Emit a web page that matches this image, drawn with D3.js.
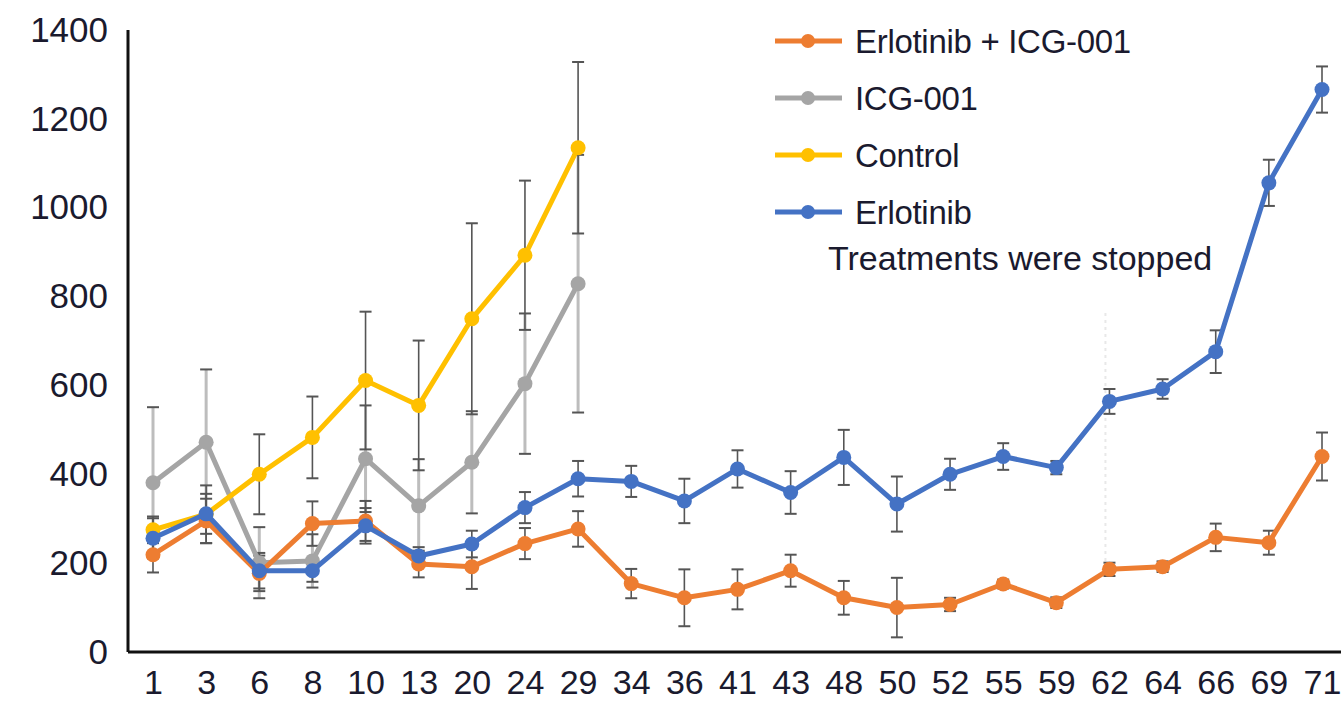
<!DOCTYPE html>
<html>
<head>
<meta charset="utf-8">
<script src="https://cdn.jsdelivr.net/npm/d3@7"></script>
<style>
  body { margin: 0; background: #fff; }
  svg text { font-family: "Liberation Sans", Arial, sans-serif; fill: #1a1a2e; }
</style>
</head>
<body>
<div id="chart"></div>
<script>
// Days after start of treatment
var days = ["1","3","6","8","10","13","20","24","29","34","36","41","43","48","50","52","55","59","62","64","66","69","71"];
var yTicks = [0, 200, 400, 600, 800, 1000, 1200, 1400];

// Tumour volume, means and error
var comboMean = [219, 295, 177, 289, 295, 198, 192, 244, 277, 154, 122, 141, 183, 122, 100, 107, 153, 111, 186, 192, 258, 246, 440];
var comboErr  = [40, 50, 40, 50, 45, 30, 50, 35, 40, 33, 64, 45, 36, 38, 67, 15, 10, 12, 15, 12, 31, 27, 54];
var icgMean = [381, 472, 201, 205, 435, 329, 427, 604, 829];
var icgErr  = [170, 164, 80, 60, 120, 105, 115, 158, 290];
var controlMean = [275, 310, 400, 483, 611, 555, 750, 893, 1135];
var controlErr  = [30, 65, 90, 92, 155, 146, 215, 168, 193];
var erloMean = [256, 311, 183, 183, 284, 216, 243, 325, 390, 384, 340, 412, 359, 438, 333, 400, 440, 415, 564, 592, 676, 1056, 1266];
var erloErr  = [45, 45, 40, 25, 40, 20, 30, 35, 40, 35, 50, 42, 48, 62, 62, 35, 30, 15, 28, 22, 48, 52, 52];

var legendNames = ["Erlotinib + ICG-001", "ICG-001", "Control", "Erlotinib"];
var stopDay = "62";
var stopRange = [205, 769];

var series = [
    {name: "ICG-001", mean: icgMean, err: icgErr, color: "#a5a5a5", errColor: "#bdbdbd", errWidth: 3},
    {name: "Control", mean: controlMean, err: controlErr, color: "#ffc000", errColor: "#555", errWidth: 1.6},
    {name: "Erlotinib + ICG-001", mean: comboMean, err: comboErr, color: "#ed7d31", errColor: "#555", errWidth: 1.6},
    {name: "Erlotinib", mean: erloMean, err: erloErr, color: "#4472c4", errColor: "#555", errWidth: 1.6}
];
var colorOf = {};
series.forEach(function(s){ colorOf[s.name] = s.color; });

var width = 1341, height = 703;
var margin = {top: 30, right: 19, bottom: 51, left: 128};

var svg = d3.select("#chart").append("svg")
    .attr("width", width)
    .attr("height", height);

// Scales
var x = d3.scalePoint().domain(days).range([margin.left + 25, width - margin.right]);
var y = d3.scaleLinear().domain([0, 1400]).range([height - margin.bottom, margin.top]);

// faint marker where treatments were stopped
svg.append("line")
    .attr("x1", x(stopDay) - 4).attr("x2", x(stopDay) - 4)
    .attr("y1", y(stopRange[0])).attr("y2", y(stopRange[1]))
    .attr("stroke", "#e8e8e8")
    .attr("stroke-width", 2)
    .attr("stroke-dasharray", "3,4");

// Error bars first, lines on top
series.forEach(function(s){
    var pts = s.mean.map(function(m, i){ return {day: days[i], m: m, e: s.err[i]}; });
    var g = svg.append("g");
    g.selectAll("line.v").data(pts).enter().append("line")
        .attr("x1", function(d){ return x(d.day); })
        .attr("x2", function(d){ return x(d.day); })
        .attr("y1", function(d){ return y(d.m - d.e); })
        .attr("y2", function(d){ return y(d.m + d.e); })
        .attr("stroke", s.errColor).attr("stroke-width", s.errWidth);
    [1, -1].forEach(function(sign){
        g.selectAll("line.c" + sign).data(pts).enter().append("line")
            .attr("x1", function(d){ return x(d.day) - 6; })
            .attr("x2", function(d){ return x(d.day) + 6; })
            .attr("y1", function(d){ return y(d.m + sign * d.e); })
            .attr("y2", function(d){ return y(d.m + sign * d.e); })
            .attr("stroke", "#555").attr("stroke-width", 2);
    });
});

var line = d3.line()
    .x(function(d){ return x(d.day); })
    .y(function(d){ return y(d.m); });

series.forEach(function(s){
    var pts = s.mean.map(function(m, i){ return {day: days[i], m: m}; });
    svg.append("path")
        .datum(pts)
        .attr("d", line)
        .attr("fill", "none")
        .attr("stroke", s.color)
        .attr("stroke-width", 5)
        .attr("stroke-linejoin", "round");
    svg.selectAll(null).data(pts).enter().append("circle")
        .attr("cx", function(d){ return x(d.day); })
        .attr("cy", function(d){ return y(d.m); })
        .attr("r", 7.5)
        .attr("fill", s.color);
});

// Axes
var xAxis = svg.append("g")
    .attr("transform", "translate(0," + y(0) + ")")
    .call(d3.axisBottom(x).tickSize(0).tickPadding(18));
xAxis.select(".domain").attr("d", "M" + margin.left + ",0H" + width).attr("stroke", "#111").attr("stroke-width", 3);
xAxis.selectAll("text").style("font-size", "34px").attr("dy", "0.71em");

var yAxis = svg.append("g")
    .attr("transform", "translate(" + margin.left + ",0)")
    .call(d3.axisLeft(y).tickValues(yTicks).tickFormat(d3.format("d")).tickSize(0).tickPadding(20));
yAxis.select(".domain").attr("d", "M0," + y(0) + "V" + y(1400)).attr("stroke", "#111").attr("stroke-width", 3);
yAxis.selectAll("text").style("font-size", "35px");

// Legend
var legend = svg.append("g");
legendNames.forEach(function(name, i){
    var ly = 41 + i * 57;
    legend.append("line")
        .attr("x1", 775).attr("x2", 842)
        .attr("y1", ly).attr("y2", ly)
        .attr("stroke", colorOf[name]).attr("stroke-width", 5);
    legend.append("circle")
        .attr("cx", 808).attr("cy", ly).attr("r", 7)
        .attr("fill", colorOf[name]);
    legend.append("text")
        .attr("x", 855).attr("y", ly)
        .attr("dy", "0.36em")
        .style("font-size", "33px")
        .style("letter-spacing", "-0.3px")
        .text(name);
});
legend.append("text")
    .attr("x", 828).attr("y", 258)
    .attr("dy", "0.36em")
    .style("font-size", "34px")
    .text("Treatments were stopped");
</script>
</body>
</html>
